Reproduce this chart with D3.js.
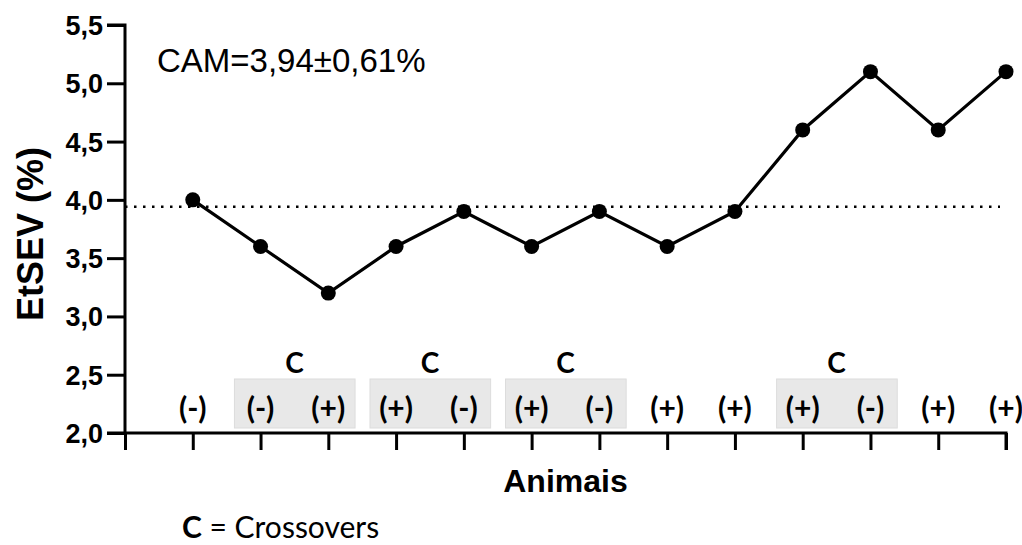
<!DOCTYPE html>
<html>
<head>
<meta charset="utf-8">
<script src="https://cdn.jsdelivr.net/npm/d3@7"></script>
<style>
  body { margin: 0; background: #fff; }
  text { fill: #000; }
</style>
</head>
<body>
<div id="container"></div>
<script>
/* CONSTANTS AND GLOBALS */
const width = 1022
const height = 545
const margin = { top: 25, bottom: 112, left: 125, right: 16 }

// data
const animals = [1, 2, 3, 4, 5, 6, 7, 8, 9, 10, 11, 12, 13]
const etsev = [4.0, 3.6, 3.2, 3.6, 3.9, 3.6, 3.9, 3.6, 3.9, 4.6, 5.1, 4.6, 5.1]
const signs = ["(-)", "(-)", "(+)", "(+)", "(-)", "(+)", "(-)", "(+)", "(+)", "(+)", "(-)", "(+)", "(+)"]
const crossovers = [[2, 3], [4, 5], [6, 7], [10, 11]]
const yTicks = [2.0, 2.5, 3.0, 3.5, 4.0, 4.5, 5.0, 5.5]
const meanValue = 3.94
const meanLabel = "CAM=3,94\u00b10,61%"

const data = animals.map((a, i) => ({ animal: a, value: etsev[i], sign: signs[i] }))

// SCALES
const xScale = d3.scaleLinear()
  .domain([0, 13])
  .range([margin.left, width - margin.right])

const yScale = d3.scaleLinear()
  .domain([2.0, 5.5])
  .range([height - margin.bottom, margin.top])

const svg = d3.select("#container")
  .append("svg")
  .attr("width", width)
  .attr("height", height)

// crossover boxes (behind everything)
const step = xScale(1) - xScale(0)
svg.selectAll(".cbox")
  .data(crossovers)
  .join("rect")
  .attr("class", "cbox")
  .attr("x", d => xScale(d[0]) - step * 0.385)
  .attr("width", d => xScale(d[1]) - xScale(d[0]) + step * 0.78)
  .attr("y", yScale(2.0) - 54)
  .attr("height", 49)
  .attr("fill", "#e8e8e8")
  .attr("stroke", "#dcdcdc")
  .attr("stroke-width", 1)

svg.selectAll(".clabel")
  .data(crossovers)
  .join("text")
  .attr("class", "clabel")
  .attr("x", d => (xScale(d[0]) + xScale(d[1])) / 2)
  .attr("y", 373)
  .attr("text-anchor", "middle")
  .attr("font-family", "Lato, sans-serif")
  .attr("font-weight", "bold")
  .attr("font-size", 28)
  .text("C")

svg.selectAll(".sign")
  .data(data)
  .join("text")
  .attr("class", "sign")
  .attr("x", d => xScale(d.animal))
  .attr("y", 419)
  .attr("text-anchor", "middle")
  .attr("font-family", "Lato, sans-serif")
  .attr("font-weight", "bold")
  .attr("font-size", 30)
  .text(d => d.sign)

// AXES
const yAxis = d3.axisLeft(yScale)
  .tickValues(yTicks)
  .tickSize(18)
  .tickPadding(4)
  .tickFormat(d => d3.format(".1f")(d).replace(".", ","))

const yAxisGroup = svg.append("g")
  .attr("transform", `translate(${margin.left}, 0)`)
  .call(yAxis)

const xAxis = d3.axisBottom(xScale)
  .tickValues(d3.range(0, 14))
  .tickSize(17)
  .tickFormat("")

const xAxisGroup = svg.append("g")
  .attr("transform", `translate(0, ${height - margin.bottom})`)
  .call(xAxis)

svg.selectAll(".domain")
  .attr("stroke", "#000")
  .attr("stroke-width", 3)
svg.selectAll(".tick line")
  .attr("stroke", "#000")
  .attr("stroke-width", 3)
yAxisGroup.selectAll(".domain").attr("d", `M-18,${yScale(5.5)}H0V${yScale(2.0)}H-18`)
xAxisGroup.selectAll(".domain").attr("d", `M${margin.left},0H${width - margin.right}V17`)

yAxisGroup.selectAll(".tick text")
  .attr("font-family", "'Liberation Sans', Arial, sans-serif")
  .attr("font-weight", "bold")
  .attr("font-size", 27)
  .attr("dy", "0.35em")
  .attr("fill", "#000")

// axis titles
svg.append("text")
  .attr("transform", `translate(${43}, ${234}) rotate(-90)`)
  .attr("text-anchor", "middle")
  .attr("font-family", "'Liberation Sans', Arial, sans-serif")
  .attr("font-weight", "bold")
  .attr("font-size", 36)
  .text("EtSEV (%)")

svg.append("text")
  .attr("x", (margin.left + width - margin.right) / 2)
  .attr("y", 492)
  .attr("text-anchor", "middle")
  .attr("font-family", "'Liberation Sans', Arial, sans-serif")
  .attr("font-weight", "bold")
  .attr("font-size", 32)
  .text("Animais")

// mean line
svg.append("line")
  .attr("x1", margin.left)
  .attr("x2", xScale(13) - 6)
  .attr("y1", yScale(meanValue))
  .attr("y2", yScale(meanValue))
  .attr("stroke", "#000")
  .attr("stroke-width", 2.5)
  .attr("stroke-dasharray", "2.5,6.5")

svg.append("text")
  .attr("x", 157)
  .attr("y", 72)
  .attr("font-family", "'Liberation Sans', Arial, sans-serif")
  .attr("font-size", 33)
  .text(meanLabel)

// LINE + POINTS
const line = d3.line()
  .x(d => xScale(d.animal))
  .y(d => yScale(d.value))

svg.append("path")
  .datum(data)
  .attr("fill", "none")
  .attr("stroke", "#000")
  .attr("stroke-width", 3.2)
  .attr("d", line)

svg.selectAll(".dot")
  .data(data)
  .join("circle")
  .attr("class", "dot")
  .attr("cx", d => xScale(d.animal))
  .attr("cy", d => yScale(d.value))
  .attr("r", 7.5)
  .attr("fill", "#000")

// footnote
const foot = svg.append("text")
  .attr("x", 182)
  .attr("y", 538)
  .attr("font-family", "Lato, sans-serif")
  .attr("font-size", 30)
foot.append("tspan").attr("font-weight", "bold").text("C")
foot.append("tspan").text(" = Crossovers")
</script>
</body>
</html>
